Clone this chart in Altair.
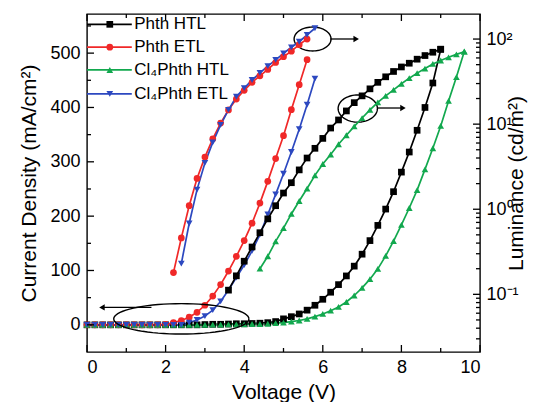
import altair as alt
import pandas as pd
import numpy as np

FONT = "Liberation Sans"

series_names = ["Phth HTL", "Phth ETL", "Cl₄Phth HTL", "Cl₄Phth ETL"]
series_colors = ["#000000", "#f02828", "#12a84e", "#2c48c0"]
series_shapes = ["square", "circle", "triangle-up", "triangle-down"]

# ---- Current density (mA/cm2), left axis ----
v_phth_htl_j = [0.0, 0.2, 0.4, 0.6, 0.8, 1.0, 1.2, 1.4, 1.6, 1.8, 2.0, 2.2, 2.4, 2.6, 2.8, 3.0,
                3.2, 3.4, 3.6, 3.8, 4.0, 4.2, 4.4, 4.6, 4.8, 5.0, 5.2, 5.4, 5.6, 5.8, 6.0, 6.2,
                6.4, 6.6, 6.8, 7.0, 7.2, 7.4, 7.6, 7.8, 8.0, 8.2, 8.4, 8.6, 8.8, 9.0]
j_phth_htl = [0, 0, 0, 0, 0, 0, 0, 0, 0, 0, 0, 0, 0, 0, 0, 0.5,
              1, 1, 1.5, 2, 2, 2.5, 3, 4, 6, 11, 15, 20, 27, 36, 47, 60,
              74, 90, 108, 130, 155, 183, 213, 245, 281, 318, 358, 400, 445, 507]

v_phth_etl_j = [0.0, 0.2, 0.4, 0.6, 0.8, 1.0, 1.2, 1.4, 1.6, 1.8, 2.0, 2.2, 2.4, 2.6, 2.8,
                3.0, 3.2, 3.4, 3.6, 3.8, 4.0, 4.2, 4.4, 4.6, 4.8, 5.0, 5.2, 5.4, 5.6]
j_phth_etl = [0, 0, 0, 0, 0, 0, 0, 0, 0, 0, 1, 4, 8, 14, 23,
              36, 53, 74, 99, 126, 155, 187, 224, 264, 306, 348, 396, 442, 488]

v_cl4_htl_j = [0.0, 0.2, 0.4, 0.6, 0.8, 1.0, 1.2, 1.4, 1.6, 1.8, 2.0, 2.2, 2.4, 2.6, 2.8, 3.0,
               3.2, 3.4, 3.6, 3.8, 4.0, 4.2, 4.4, 4.6, 4.8, 5.0, 5.2, 5.4, 5.6, 5.8, 6.0, 6.2,
               6.4, 6.6, 6.8, 7.0, 7.2, 7.4, 7.6, 7.8, 8.0, 8.2, 8.4, 8.6, 8.8, 9.0, 9.2, 9.4, 9.6]
j_cl4_htl = [0, 0, 0, 0, 0, 0, 0, 0, 0, 0, 0, 0, 0, 0, 0, 0,
             0.5, 0.5, 1, 1, 1, 1.5, 1.5, 2, 3, 4, 6, 8, 11, 15, 20, 26,
             33, 42, 54, 68, 84, 103, 127, 154, 184, 215, 248, 286, 325, 366, 412, 456, 503]

v_cl4_etl_j = [0.0, 0.2, 0.4, 0.6, 0.8, 1.0, 1.2, 1.4, 1.6, 1.8, 2.0, 2.2, 2.4, 2.6, 2.8,
               3.0, 3.2, 3.4, 3.6, 3.8, 4.0, 4.2, 4.4, 4.6, 4.8, 5.0, 5.2, 5.4, 5.6, 5.8]
j_cl4_etl = [0, 0, 0, 0, 0, 0, 0, 0, 0, 0, 0, 0, 0, 4, 9,
             16, 27, 43, 64, 87, 110, 136, 166, 203, 240, 278, 318, 360, 405, 453]

# ---- Luminance (cd/m2), right log axis ----
v_phth_htl_l = [3.6, 3.8, 4.0, 4.2, 4.4, 4.6, 4.8, 5.0, 5.2, 5.4, 5.6, 5.8, 6.0, 6.2,
                6.4, 6.6, 6.8, 7.0, 7.2, 7.4, 7.6, 7.8, 8.0, 8.2, 8.4, 8.6, 8.8, 9.0]
l_phth_htl = [0.112, 0.165, 0.245, 0.36, 0.53, 0.77, 1.1, 1.55, 2.05, 2.9, 4.0, 5.2, 6.8, 9.0,
              11.2, 14.3, 17.9, 21.5, 26, 31, 36, 41.6, 47, 52, 58, 64, 70, 76]

v_phth_etl_l = [2.2, 2.4, 2.6, 2.8, 3.0, 3.2, 3.4, 3.6, 3.8, 4.0, 4.2, 4.4, 4.6, 4.8, 5.0,
                5.2, 5.4, 5.6]
l_phth_etl = [0.18, 0.46, 1.1, 2.3, 4.1, 6.7, 10.3, 14.7, 19.7, 25, 31, 37, 44, 53, 62,
              72, 86, 100]

v_cl4_htl_l = [4.4, 4.6, 4.8, 5.0, 5.2, 5.4, 5.6, 5.8, 6.0, 6.2, 6.4, 6.6, 6.8, 7.0,
               7.2, 7.4, 7.6, 7.8, 8.0, 8.2, 8.4, 8.6, 8.8, 9.0, 9.2, 9.4, 9.6]
l_cl4_htl = [0.2, 0.28, 0.42, 0.6, 0.88, 1.25, 1.75, 2.5, 3.4, 4.4, 5.8, 7.4, 9.4, 11.8,
             14.7, 18, 21.5, 25.3, 29.8, 34.7, 39.8, 45, 51, 56, 61, 66, 71]

v_cl4_etl_l = [2.4, 2.6, 2.8, 3.0, 3.2, 3.4, 3.6, 3.8, 4.0, 4.2, 4.4, 4.6, 4.8, 5.0,
               5.2, 5.4, 5.6, 5.8]
l_cl4_etl = [0.23, 0.68, 1.7, 3.5, 6.1, 9.8, 14.7, 21, 26.5, 33, 40, 48, 57, 68,
             80, 93, 112, 134]

# ---- axes ----
x_major = [0, 2, 4, 6, 8, 10]
x_minor = [1, 3, 5, 7, 9]
j_major = [0, 100, 200, 300, 400, 500]
j_minor = [50, 150, 250, 350, 450, 550]
l_major = [0.1, 1, 10, 100]
l_minor = [0.03, 0.04, 0.05, 0.06, 0.07, 0.08, 0.09,
           0.2, 0.3, 0.4, 0.5, 0.6, 0.7, 0.8, 0.9,
           2, 3, 4, 5, 6, 7, 8, 9,
           20, 30, 40, 50, 60, 70, 80, 90]

# annotations (data coordinates of the left axis)
ellipse_cx = [5.74, 6.89, 2.40]
ellipse_cy = [526, 398, 11]
ellipse_rx = [0.47, 0.50, 1.72]
ellipse_ry = [22, 25, 28]
arrow_x1 = [6.19, 7.38, 1.64]
arrow_x2 = [6.85, 8.04, 0.38]
arrow_y = [526, 399, 32]
arrow_shape = ["triangle-right", "triangle-right", "triangle-left"]

legend_y = [553, 511, 469, 425]

W, H = 393, 338

jdf = pd.concat([
    pd.DataFrame({"V": v, "J": j, "series": s})
    for v, j, s in [(v_phth_htl_j, j_phth_htl, series_names[0]),
                    (v_phth_etl_j, j_phth_etl, series_names[1]),
                    (v_cl4_htl_j, j_cl4_htl, series_names[2]),
                    (v_cl4_etl_j, j_cl4_etl, series_names[3])]
])
ldf = pd.concat([
    pd.DataFrame({"V": v, "L": l, "series": s})
    for v, l, s in [(v_phth_htl_l, l_phth_htl, series_names[0]),
                    (v_phth_etl_l, l_phth_etl, series_names[1]),
                    (v_cl4_htl_l, l_cl4_htl, series_names[2]),
                    (v_cl4_etl_l, l_cl4_etl, series_names[3])]
])

xscale = alt.Scale(domain=[0, 10], nice=False, zero=False)
jscale = alt.Scale(domain=[-50, 572], nice=False, zero=False)
lscale = alt.Scale(type="log", domain=[0.021, 197], nice=False)
cscale = alt.Scale(domain=series_names, range=series_colors)
sscale = alt.Scale(domain=series_names, range=series_shapes)

xaxis = alt.Axis(values=x_major, title="Voltage (V)", ticks=False, domain=False, grid=False,
                 labelPadding=6, titlePadding=5, format="d")
jaxis = alt.Axis(values=j_major, title="Current Density (mA/cm²)", orient="left", ticks=False,
                 domain=False, grid=False, labelPadding=7, titlePadding=10, format="d")
laxis = alt.Axis(values=l_major, title="Luminance (cd/m²)", orient="right", ticks=False,
                 domain=False, grid=False, labelPadding=6, titlePadding=8, titleAngle=270,
                 labelExpr="datum.value < 0.5 ? '10⁻¹' : datum.value < 5 ? '10⁰' : datum.value < 50 ? '10¹' : '10²'")


def X(f):
    return alt.X(f, type="quantitative", scale=xscale, axis=xaxis)


def YJ(f):
    return alt.Y(f, type="quantitative", scale=jscale, axis=jaxis)


def YL(f):
    return alt.Y(f, type="quantitative", scale=lscale, axis=laxis)


color = alt.Color("series:N", scale=cscale, legend=None)
shape = alt.Shape("series:N", scale=sscale, legend=None)

j_lines = alt.Chart(jdf).mark_line(strokeWidth=1.7).encode(x=X("V"), y=YJ("J"), color=color)
j_pts = alt.Chart(jdf).mark_point(filled=True, size=45, opacity=1).encode(
    x=X("V"), y=YJ("J"), color=color, shape=shape)

l_lines = alt.Chart(ldf).mark_line(strokeWidth=1.7).encode(x=X("V"), y=YL("L"), color=color)
l_pts = alt.Chart(ldf).mark_point(filled=True, size=45, opacity=1).encode(
    x=X("V"), y=YL("L"), color=color, shape=shape)

# ticks drawn inward
tick_layers = []
for vals, ln in [(x_major, 7), (x_minor, 4)]:
    d = pd.DataFrame({"t": vals})
    tick_layers.append(alt.Chart(d).mark_rule(color="black", strokeWidth=1.3).encode(
        x=X("t"), y=alt.value(H), y2=alt.value(H - ln)))
    tick_layers.append(alt.Chart(d).mark_rule(color="black", strokeWidth=1.3).encode(
        x=X("t"), y=alt.value(0), y2=alt.value(ln)))
for vals, ln in [(j_major, 7), (j_minor, 4)]:
    tick_layers.append(alt.Chart(pd.DataFrame({"t": vals})).mark_rule(color="black", strokeWidth=1.3).encode(
        y=YJ("t"), x=alt.value(0), x2=alt.value(ln)))
l_tick_layers = []
for vals, ln in [(l_major, 7), (l_minor, 4)]:
    l_tick_layers.append(alt.Chart(pd.DataFrame({"t": vals})).mark_rule(color="black", strokeWidth=1.3).encode(
        y=YL("t"), x=alt.value(W), x2=alt.value(W - ln)))

# ellipses
rows = []
ang = np.linspace(0, 2 * np.pi, 73)
for i in range(len(ellipse_cx)):
    for k, a in enumerate(ang):
        rows.append({"ex": ellipse_cx[i] + ellipse_rx[i] * np.cos(a),
                     "ey": ellipse_cy[i] + ellipse_ry[i] * np.sin(a),
                     "eid": i, "k": k})
edf = pd.DataFrame(rows)
ellipses = alt.Chart(edf).mark_line(color="black", strokeWidth=1.4).encode(
    x=X("ex"), y=YJ("ey"), detail="eid:N", order="k:Q")

adf = pd.DataFrame({"x1": arrow_x1, "x2": arrow_x2, "y": arrow_y, "s": arrow_shape})
arrows = alt.Chart(adf).mark_rule(color="black", strokeWidth=1.3).encode(
    x=X("x1"), x2="x2", y=YJ("y"))
heads = alt.Chart(adf).mark_point(filled=True, size=40, color="black", opacity=1).encode(
    x=X("x2"), y=YJ("y"), shape=alt.Shape("s:N", scale=None))

# legend
legdf = pd.DataFrame({"series": series_names, "ly": legend_y,
                      "lx1": [0.0] * 4, "lx2": [1.14] * 4, "mx": [0.58] * 4, "tx": [1.20] * 4})
leg_lines = alt.Chart(legdf).mark_rule(strokeWidth=1.8).encode(
    x=X("lx1"), x2="lx2", y=YJ("ly"), color=color)
leg_pts = alt.Chart(legdf).mark_point(filled=True, size=45, opacity=1).encode(
    x=X("mx"), y=YJ("ly"), color=color, shape=shape)
leg_text = alt.Chart(legdf).mark_text(align="left", baseline="middle", fontSize=17, font=FONT,
                                      color="black").encode(
    x=X("tx"), y=YJ("ly"), text="series:N")

left = alt.layer(j_lines, j_pts, *tick_layers, ellipses, arrows, heads, leg_lines, leg_pts, leg_text)
right = alt.layer(l_lines, l_pts, *l_tick_layers)

chart = alt.layer(left, right).resolve_scale(y="independent").properties(
    width=W, height=H,
    autosize=alt.AutoSizeParams(type="none"),
    padding={"left": 79, "top": 6, "right": 48, "bottom": 50},
).configure_view(stroke="black", strokeWidth=1.4).configure_axis(
    labelFont=FONT, titleFont=FONT, labelFontSize=18, titleFontSize=21,
    labelColor="black", titleColor="black", titleFontWeight="normal"
)

chart.save("out.html", embed_options={"renderer": "svg", "actions": False})
